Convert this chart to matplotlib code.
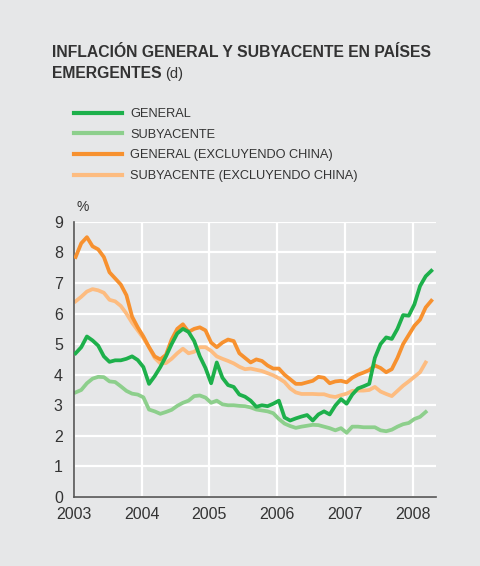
import numpy as np
import matplotlib
matplotlib.use("Agg")
import matplotlib.pyplot as plt

# Datos mensuales, ene 2003 - abr 2008 (subyacentes hasta mar 2008)
general = [4.7, 4.9, 5.25, 5.12, 4.95, 4.6, 4.42, 4.47, 4.47, 4.52, 4.6, 4.48,
           4.25, 3.7, 3.95, 4.25, 4.6, 5.0, 5.35, 5.5, 5.4, 5.1, 4.6, 4.22,
           3.72, 4.4, 3.9, 3.66, 3.6, 3.35, 3.28, 3.15, 2.95, 3.0, 2.97, 3.05,
           3.15, 2.6, 2.5, 2.57, 2.63, 2.68, 2.5, 2.7, 2.8, 2.7, 2.99, 3.2,
           3.05, 3.35, 3.55, 3.62, 3.7, 4.55, 5.0, 5.22, 5.17, 5.5, 5.95, 5.93,
           6.3, 6.9, 7.22, 7.4]
subyacente = [3.42, 3.5, 3.72, 3.87, 3.93, 3.92, 3.78, 3.76, 3.62, 3.47, 3.38, 3.35,
              3.26, 2.86, 2.8, 2.72, 2.78, 2.85, 2.98, 3.08, 3.15, 3.3, 3.32, 3.25,
              3.08, 3.15, 3.03, 3.0, 3.0, 2.98, 2.97, 2.93, 2.86, 2.83, 2.8, 2.74,
              2.55, 2.4, 2.32, 2.26, 2.3, 2.33, 2.36, 2.35, 2.3, 2.25, 2.18, 2.25,
              2.1, 2.3, 2.3, 2.28, 2.28, 2.28, 2.18, 2.15, 2.2, 2.3, 2.38, 2.42,
              2.55, 2.62, 2.78]
general_exch = [7.85, 8.3, 8.5, 8.2, 8.1, 7.85, 7.35, 7.15, 6.95, 6.6, 5.9, 5.55,
                5.25, 4.9, 4.6, 4.5, 4.65, 5.15, 5.5, 5.65, 5.4, 5.5, 5.55, 5.45,
                5.05, 4.9, 5.05, 5.15, 5.1, 4.7, 4.55, 4.4, 4.5, 4.45, 4.3, 4.2,
                4.2, 4.0, 3.85, 3.7, 3.7, 3.75, 3.8, 3.93, 3.9, 3.72, 3.78, 3.8,
                3.75, 3.9, 4.0, 4.07, 4.15, 4.3, 4.22, 4.08, 4.18, 4.55, 5.0, 5.3,
                5.6, 5.8, 6.2, 6.42]
subyacente_exch = [6.4, 6.55, 6.72, 6.8, 6.76, 6.68, 6.45, 6.4, 6.25, 6.0, 5.7, 5.45,
                   5.2, 4.9, 4.55, 4.37, 4.38, 4.52, 4.7, 4.85, 4.7, 4.75, 4.9, 4.9,
                   4.78, 4.6, 4.52, 4.45, 4.37, 4.26, 4.18, 4.2, 4.16, 4.12, 4.05, 3.98,
                   3.88, 3.76, 3.55, 3.42, 3.37, 3.37, 3.37, 3.36, 3.36, 3.3, 3.27, 3.33,
                   3.38, 3.47, 3.48, 3.48, 3.5, 3.6, 3.45, 3.37, 3.3, 3.47, 3.64, 3.78,
                   3.93, 4.08, 4.4]

years = ["2003", "2004", "2005", "2006", "2007", "2008"]
labels = ["GENERAL", "SUBYACENTE", "GENERAL (EXCLUYENDO CHINA)",
          "SUBYACENTE (EXCLUYENDO CHINA)"]
colors = ["#1db04b", "#8dcf8c", "#f7912f", "#fdbc80"]

bg = "#e6e7e8"
txt = "#333333"
plt.rcParams["font.family"] = ["Liberation Sans", "DejaVu Sans"]

fig = plt.figure(figsize=(4.8, 5.66), dpi=100, facecolor=bg)
ax = fig.add_axes([0.154, 0.122, 0.754, 0.486], facecolor=bg)

series = [general, subyacente, general_exch, subyacente_exch]
lines = []
for vals, lab, col in zip(series, labels, colors):
    x = np.arange(len(vals)) + 0.3
    ln, = ax.plot(x, vals, color=col, lw=2.7, label=lab, solid_joinstyle="round")
    lines.append(ln)
# las subyacentes quedan debajo
for ln, z in zip(lines, [4, 2, 3, 1]):
    ln.set_zorder(z)

ax.set_xlim(0, 64.1)
ax.set_ylim(0, 9)
ax.set_xticks(np.arange(0, 61, 12))
ax.set_xticklabels(years)
ax.set_yticks(range(0, 10))
ax.tick_params(length=0, labelsize=11.5, colors=txt, pad=7)
ax.tick_params(axis="y", pad=8)
ax.grid(True, color="white", lw=1.6, zorder=0)
ax.set_axisbelow(True)
for s in ["top", "right"]:
    ax.spines[s].set_visible(False)
for s in ["left", "bottom"]:
    ax.spines[s].set_color("#555555")
    ax.spines[s].set_linewidth(1.2)

fig.text(0.16, 0.634, "%", fontsize=10, color=txt, ha="left", va="center")

# titulo
t1 = fig.text(0.108, 0.908, "INFLACIÓN GENERAL Y SUBYACENTE EN PAÍSES",
              fontsize=11.3, fontweight="bold", color=txt, va="center")
t2 = fig.text(0.108, 0.870, "EMERGENTES", fontsize=11.3, fontweight="bold",
              color=txt, va="center")
fig.canvas.draw()
bb = t2.get_window_extent()
fig.text((bb.x1 + 4) / fig.bbox.width, 0.870, "(d)", fontsize=10.5,
         color=txt, va="center")

leg = fig.legend(handles=lines, labels=labels, loc="upper left",
                 bbox_to_anchor=(0.154, 0.809), frameon=False, fontsize=9.2,
                 handlelength=3.8, handletextpad=0.6, labelspacing=0.68,
                 borderaxespad=0, borderpad=0)
for t in leg.get_texts():
    t.set_color(txt)
for h in leg.legend_handles:
    h.set_linewidth(3)

fig.savefig("out.png", dpi=100, facecolor=bg)
